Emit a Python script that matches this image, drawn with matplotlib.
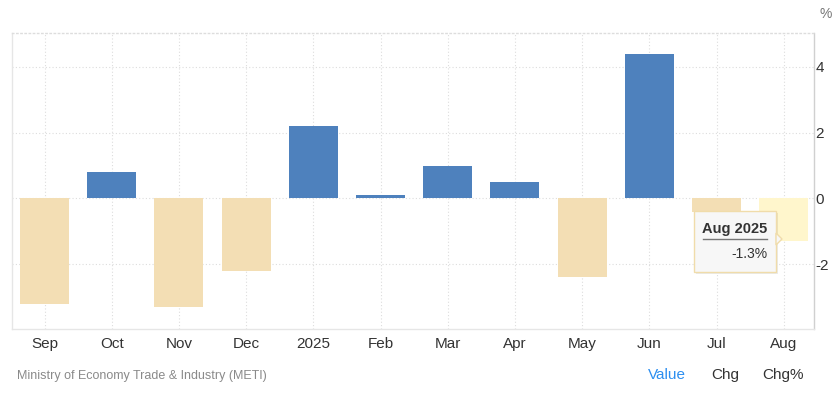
import matplotlib.pyplot as plt
from matplotlib.patches import FancyBboxPatch, Polygon

plt.rcParams['font.family'] = ['Liberation Sans', 'DejaVu Sans']

# data
months = ['Sep', 'Oct', 'Nov', 'Dec', '2025', 'Feb', 'Mar', 'Apr', 'May', 'Jun', 'Jul', 'Aug']
values = [-3.2, 0.8, -3.3, -2.2, 2.2, 0.1, 1.0, 0.5, -2.4, 4.4, -0.4, -1.3]
yticks = [-2, 0, 2, 4]
tip_title = 'Aug 2025'

pos_color = '#4e81bd'
neg_color = '#f3deb4'
hover_color = '#fff6cc'

fig = plt.figure(figsize=(8.32, 3.99), dpi=100)
ax = fig.add_axes([12 / 832, 1 - 329 / 399, (814 - 12) / 832, (329 - 33) / 399])

x = list(range(len(months)))
colors = [pos_color if v >= 0 else neg_color for v in values]
colors[-1] = hover_color
ax.bar(x, values, width=0.73, color=colors, zorder=2)

ax.set_xlim(-0.484, 11.45)
ax.set_ylim(-3.97, 5.03)

ax.set_xticks(x)
ax.set_xticklabels(months, fontsize=11, color='#333333')
ax.set_yticks(yticks)
ax.set_yticklabels([str(t) for t in yticks], fontsize=11, color='#333333')
ax.yaxis.tick_right()
ax.tick_params(axis='x', length=0, pad=6)
ax.tick_params(axis='y', length=0, pad=1)

ax.grid(color='#dddddd', linestyle=(0, (1, 2)), linewidth=0.8, zorder=0)
ax.set_axisbelow(True)

ax.spines['top'].set_linestyle((0, (1, 2)))
ax.spines['top'].set_color('#dddddd')
ax.spines['left'].set_color('#e6e6e6')
ax.spines['bottom'].set_color('#e6e6e6')
ax.spines['right'].set_color('#d0d0d0')
for s in ax.spines.values():
    s.set_linewidth(1)

fig.text(826 / 832, 1 - 14 / 399, '%', fontsize=10, color='#777777', ha='center', va='center')

# tooltip
shadow = FancyBboxPatch((696 / 832, 1 - 274 / 399), 82 / 832, 61 / 399,
                        boxstyle='square,pad=0', transform=fig.transFigure,
                        facecolor='#000000', alpha=0.08, edgecolor='none', zorder=4)
fig.patches.append(shadow)
box = FancyBboxPatch((694 / 832, 1 - 272 / 399), 82 / 832, 61 / 399,
                     boxstyle='square,pad=0', transform=fig.transFigure,
                     facecolor='#f7f7f7', edgecolor='#f0dcaa', linewidth=1, zorder=5)
fig.patches.append(box)
arrow = Polygon([(776 / 832, 1 - 233 / 399), (782 / 832, 1 - 239 / 399), (776 / 832, 1 - 245 / 399)],
                closed=True, transform=fig.transFigure, facecolor='#f7f7f7',
                edgecolor='#f0dcaa', linewidth=1, zorder=5)
fig.patches.append(arrow)
fig.text(735 / 832, 1 - 229 / 399, tip_title, fontsize=10.5, fontweight='bold',
         color='#333333', ha='center', va='center', zorder=7)
fig.lines.append(plt.Line2D([703 / 832, 767 / 832], [1 - 239 / 399, 1 - 239 / 399],
                            transform=fig.transFigure, color='#777777', linewidth=1, zorder=7))
fig.text(767 / 832, 1 - 254 / 399, '%.1f%%' % values[-1], fontsize=10,
         color='#333333', ha='right', va='center', zorder=7)

# footer
fig.text(17 / 832, 1 - 376 / 399, 'Ministry of Economy Trade & Industry (METI)',
         fontsize=9, color='#8a8a8a', ha='left', va='center')
fig.text(667 / 832, 1 - 375 / 399, 'Value', fontsize=11, color='#2d8ff0', ha='center', va='center')
fig.text(725 / 832, 1 - 375 / 399, 'Chg', fontsize=11, color='#333333', ha='center', va='center')
fig.text(783 / 832, 1 - 375 / 399, 'Chg%', fontsize=11, color='#333333', ha='center', va='center')

fig.savefig('out.png', dpi=100)
